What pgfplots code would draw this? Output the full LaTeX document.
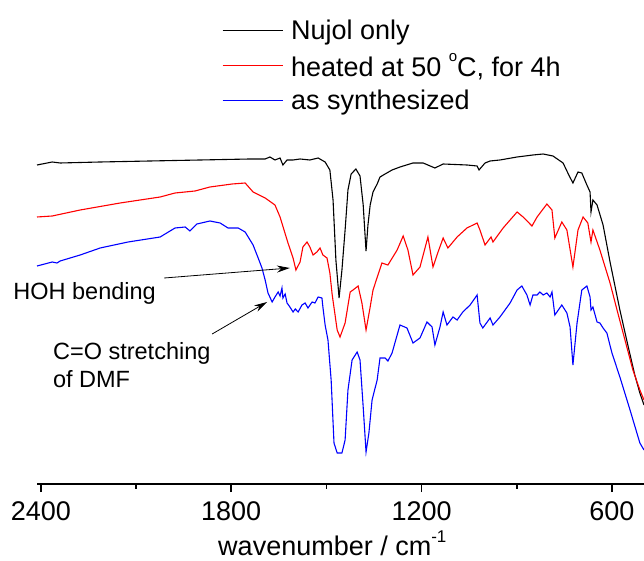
\documentclass[border=0pt]{standalone}
\usepackage{pgfplots}
\pgfplotsset{compat=1.18}
\usepackage{fontspec}
\setmainfont{Liberation Sans}
\usetikzlibrary{arrows.meta}

% IR spectra, offset traces (arbitrary transmittance units)
\pgfplotstableread{
wn T
2412 319
2364 322
2339 321
2213 322
2056 323
1898 324
1741 325
1693 325
1678 327
1662 324
1646 326
1637 319
1624 324
1605 324
1583 325
1552 324
1526 326
1504 322
1489 314
1479 284
1470 224
1460 186
1451 214
1441 254
1432 294
1422 310
1407 315
1394 308
1384 279
1375 233
1369 259
1362 279
1353 292
1340 300
1331 307
1315 310
1293 314
1268 317
1227 321
1195 321
1158 316
1132 320
1057 319
1025 318
1019 314
1000 321
984 323
953 324
899 327
849 329
817 330
786 328
754 321
736 309
723 301
707 312
695 311
679 299
669 292
666 272
660 284
647 279
628 259
606 222
575 174
550 139
528 109
512 91
499 79
}\nujol

\pgfplotstableread{
wn T
2412 267
2364 268
2276 274
2150 281
2024 287
1977 291
1914 293
1867 297
1797 300
1756 301
1731 292
1693 286
1662 279
1646 267
1621 241
1605 226
1596 214
1583 222
1574 237
1561 242
1552 237
1542 229
1530 232
1520 236
1511 229
1498 226
1489 211
1482 190
1466 154
1457 147
1441 161
1425 192
1416 194
1400 198
1388 181
1375 154
1362 177
1353 194
1325 221
1306 219
1277 234
1258 248
1243 234
1227 209
1205 217
1180 247
1164 217
1148 232
1132 246
1117 236
1088 247
1057 256
1025 261
1016 254
1000 239
981 247
975 242
943 256
899 272
880 267
852 258
836 267
805 280
789 274
780 246
758 262
742 254
723 217
707 254
691 267
676 261
666 242
660 254
638 234
606 201
584 174
559 144
534 114
512 94
499 84
}\heated

\pgfplotstableread{
wn T
2412 218
2364 222
2349 221
2339 223
2276 229
2213 236
2125 242
2024 247
1977 256
1945 257
1930 253
1908 260
1867 263
1835 261
1810 256
1778 256
1756 252
1731 239
1715 226
1703 216
1693 204
1684 191
1671 182
1662 187
1652 192
1646 188
1640 196
1637 186
1630 190
1624 181
1615 177
1605 172
1598 175
1589 172
1577 179
1567 181
1558 176
1545 182
1536 181
1526 187
1514 186
1511 177
1504 159
1495 144
1485 104
1476 41
1466 31
1451 31
1441 44
1432 94
1419 124
1403 132
1394 124
1384 77
1375 32
1366 51
1356 84
1340 104
1331 126
1315 126
1306 123
1293 131
1277 149
1268 159
1246 156
1227 141
1205 146
1183 162
1167 157
1158 139
1142 157
1132 172
1120 159
1101 167
1088 164
1070 172
1047 179
1025 189
1016 161
1007 156
984 166
975 159
953 167
921 181
899 194
884 198
868 189
858 179
849 189
836 189
827 192
817 189
805 191
795 187
789 192
780 169
758 179
742 171
732 157
723 119
710 161
695 194
679 198
669 187
666 174
660 177
647 162
638 161
628 156
616 151
600 131
575 107
543 74
512 41
499 34
}\synth

\newcommand{\bigfont}{\fontsize{27}{32}\selectfont}
\newcommand{\notefont}{\fontsize{23.5}{28}\selectfont}

\begin{document}
\begin{tikzpicture}
\begin{axis}[
  scale only axis, width=607.3pt, height=484pt,
  xmin=499, xmax=2413, ymin=0, ymax=484,
  x dir=reverse,
  axis x line=bottom, axis y line=none,
  x axis line style={-, line width=1.5pt},
  xtick={600,1200,1800,2400}, minor xtick={900,1500,2100},
  tick align=outside,
  major tick length=8pt, minor tick length=4.5pt,
  tick style={black, line width=1.5pt},
  /pgf/number format/assume math mode=true,
  /pgf/number format/1000 sep={},
  ticklabel style={font=\bigfont, yshift=-6pt},
  xlabel={wavenumber / cm\raisebox{13pt}{\fontsize{17}{17}\selectfont -1}},
  xlabel style={font=\bigfont, at={(axis description cs:0.5,0)},
    anchor=base, yshift=-71pt, xshift=-8pt},
  clip=false,
  legend cell align=left,
  legend style={at={(axis cs:1829,464)}, anchor=north west,
    draw=none, fill=none, inner sep=0pt,
    nodes={inner sep=0pt},
    column sep=8pt, row sep=12pt,
    font=\bigfont},
  legend image code/.code={\draw[#1, line width=1pt] (0pt,0pt) -- (60pt,0pt);},
]
\addplot[black, line width=1.1pt] table[x=wn, y=T] {\nujol};
\addlegendentry{Nujol only}
\addplot[red, line width=1.1pt] table[x=wn, y=T] {\heated};
\addlegendentry{heated at 50 \raisebox{15pt}{\fontsize{15}{15}\selectfont o}C, for 4h}
\addplot[blue, line width=1.1pt] table[x=wn, y=T] {\synth};
\addlegendentry{as synthesized}

\node[anchor=base west, inner sep=0pt, font=\notefont]
  at (axis cs:2487,184) {HOH bending};
\node[anchor=base west, inner sep=0pt, font=\notefont]
  at (axis cs:2362,124) {C=O stretching};
\node[anchor=base west, inner sep=0pt, font=\notefont]
  at (axis cs:2362,96) {of DMF};
\draw[-{Stealth[length=13pt,width=7pt]}, line width=0.8pt]
  (axis cs:2011,206) -- (axis cs:1615,216);
\draw[-{Stealth[length=13pt,width=7pt]}, line width=0.8pt]
  (axis cs:1860,150) -- (axis cs:1687,182);
\end{axis}
\pgfresetboundingbox
\useasboundingbox ([xshift=-36.7pt, yshift=-77pt]current axis.south west)
  rectangle (current axis.north east);
\end{tikzpicture}
\end{document}
